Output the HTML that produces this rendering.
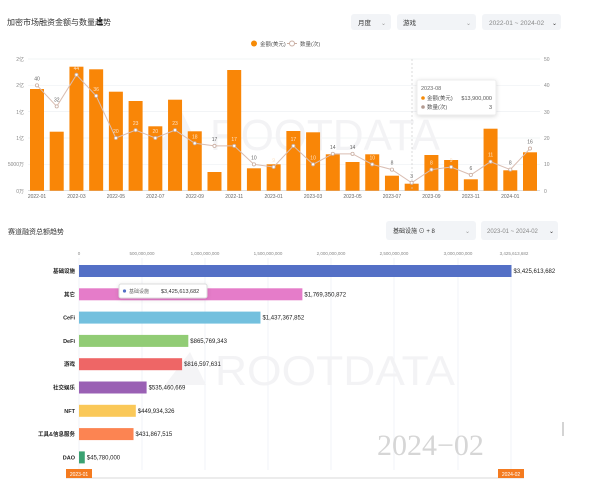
<!DOCTYPE html>
<html><head><meta charset="utf-8"><style>
html,body{margin:0;padding:0;background:#fff;width:600px;height:484px;overflow:hidden}
svg{display:block;font-family:"Liberation Sans","Noto Sans CJK SC",sans-serif}
</style></head><body>
<svg width="600" height="484" viewBox="0 0 600 484" xmlns="http://www.w3.org/2000/svg">
<text x="7" y="25" font-size="8" fill="#333">加密市场融资金额与数量趋势</text>
<path d="M100 17v5m-2.5 -2.5l2.5 2.5 2.5-2.5M97 24.5h6" stroke="#222" stroke-width="1.3" fill="none"/>
<rect x="351" y="14" width="40" height="16" rx="3" fill="#f2f4f7"/>
<text x="358" y="25" font-size="6.5" fill="#333">月度</text><text x="381" y="25" font-size="6" fill="#999">⌄</text>
<rect x="397" y="14" width="79" height="16" rx="3" fill="#f2f4f7"/>
<text x="403" y="25" font-size="6.5" fill="#333">游戏</text><text x="466" y="25" font-size="6" fill="#999">⌄</text>
<rect x="482" y="14" width="79" height="16" rx="3" fill="#f2f4f7"/>
<text x="489" y="25" font-size="6.5" fill="#888">2022-01  ~  2024-02</text><text x="552" y="25" font-size="6" fill="#333">⌄</text>
<circle cx="254" cy="43.5" r="3" fill="#f68b07"/><text x="260" y="46" font-size="5.5" fill="#555">金额(美元)</text>
<line x1="287" y1="43.5" x2="297" y2="43.5" stroke="#c9aea2"/><circle cx="292" cy="43.5" r="2.5" fill="#fff" stroke="#c9aea2"/><text x="300" y="46" font-size="5.5" fill="#555">数量(次)</text>
<g stroke="#eef0f3" stroke-width="0.7">
<line x1="28" y1="59" x2="540" y2="59"/><line x1="28" y1="85.3" x2="540" y2="85.3"/><line x1="28" y1="111.6" x2="540" y2="111.6"/><line x1="28" y1="138" x2="540" y2="138"/><line x1="28" y1="164.3" x2="540" y2="164.3"/>
</g>
<line x1="28" y1="190.7" x2="540" y2="190.7" stroke="#ccc" stroke-width="0.7"/>
<g font-size="5" fill="#888" text-anchor="end">
<text x="24" y="61">2亿</text><text x="24" y="87">2亿</text><text x="24" y="114">1亿</text><text x="24" y="140">1亿</text><text x="24" y="166">5000万</text><text x="24" y="193">0万</text>
</g>
<g font-size="5" fill="#888">
<text x="544" y="61">50</text><text x="544" y="87">40</text><text x="544" y="114">30</text><text x="544" y="140">20</text><text x="544" y="166">10</text><text x="544" y="193">0</text>
</g>
<path d="M155 150 L182 112 L200 150Z" fill="#f4f4f6"/>
<text x="210" y="150" font-size="44" fill="#f3f3f5" textLength="230" lengthAdjust="spacingAndGlyphs">ROOTDATA</text>
<g fill="#f98607" id="bars"></g>
<line x1="412" y1="59" x2="412" y2="190" stroke="#ccc" stroke-dasharray="2,2" stroke-width="0.7"/>
<polyline id="ln" fill="none" stroke="#d9bdb2" stroke-width="1"/>
<g id="pts"></g>
<g id="xl" font-size="5" fill="#666" text-anchor="middle"></g>
<rect x="417" y="80" width="79" height="35" rx="2" fill="#fff" stroke="#eee" filter="drop-shadow(0 1px 2px rgba(0,0,0,.15))"/>
<text x="421" y="90" font-size="5.5" fill="#666">2023-08</text>
<circle cx="423" cy="98" r="1.8" fill="#f68b07"/><text x="427" y="100" font-size="5.5" fill="#555">金额(美元)</text><text x="492" y="100" font-size="5.5" fill="#555" text-anchor="end">$13,900,000</text>
<circle cx="423" cy="107" r="1.8" fill="#b39a90"/><text x="427" y="109" font-size="5.5" fill="#555">数量(次)</text><text x="492" y="109" font-size="5.5" fill="#555" text-anchor="end">3</text>

<text x="8" y="234" font-size="7" fill="#333">赛道融资总额趋势</text>
<rect x="386" y="221" width="90" height="19" rx="3" fill="#f2f4f7"/>
<text x="393" y="233" font-size="6" fill="#333">基础设施 ⊙   + 8</text><text x="465" y="233" font-size="6" fill="#999">⌄</text>
<rect x="481" y="221" width="77" height="19" rx="3" fill="#f2f4f7"/>
<text x="487" y="233" font-size="6" fill="#888">2023-01  ~  2024-02</text><text x="549" y="233" font-size="6" fill="#333">⌄</text>
<g stroke="#eef0f6" stroke-width="0.8">
<line x1="79" y1="258" x2="79" y2="470"/><line x1="142" y1="258" x2="142" y2="470"/><line x1="205" y1="258" x2="205" y2="470"/><line x1="268" y1="258" x2="268" y2="470"/><line x1="331" y1="258" x2="331" y2="470"/><line x1="394" y1="258" x2="394" y2="470"/><line x1="458" y1="258" x2="458" y2="470"/><line x1="511" y1="258" x2="511" y2="470"/>
</g>
<g font-size="4.5" fill="#888" text-anchor="middle">
<text x="79" y="255">0</text><text x="142" y="255">500,000,000</text><text x="205" y="255">1,000,000,000</text><text x="268" y="255">1,500,000,000</text><text x="331" y="255">2,000,000,000</text><text x="394" y="255">2,500,000,000</text><text x="458" y="255">3,000,000,000</text><text x="514" y="255">3,425,613,682</text>
</g>
<path d="M165 385 L190 352 L206 385Z" fill="#f4f4f6"/>
<text x="215" y="385" font-size="42" fill="#f3f3f5" textLength="240" lengthAdjust="spacingAndGlyphs">ROOTDATA</text>
<g id="hb"></g>
<text x="377" y="455" font-size="30" fill="#d6d6d6" font-family="Liberation Serif,serif">2024−02</text>
<line x1="563" y1="422" x2="563" y2="436" stroke="#aaa" stroke-width="1"/>
<line x1="66" y1="478" x2="524" y2="478" stroke="#e5e5e5" stroke-width="1.5"/>
<rect x="66" y="469" width="26" height="9" fill="#f47b20"/><text x="79" y="476" font-size="5" fill="#fff" text-anchor="middle">2023-01</text>
<rect x="498" y="469" width="26" height="9" fill="#f47b20"/><text x="511" y="476" font-size="5" fill="#fff" text-anchor="middle">2024-02</text>
<rect x="119" y="284" width="88" height="14" rx="2" fill="#fff" stroke="#ddd" filter="drop-shadow(0 1px 2px rgba(0,0,0,.12))"/>
<circle cx="124.5" cy="291" r="1.6" fill="#5470c6"/><text x="129" y="293" font-size="5" fill="#666">基础设施</text><text x="161" y="293" font-size="5.5" fill="#333">$3,425,613,682</text>
</svg>
<script>
var ns="http://www.w3.org/2000/svg";
function el(p,t,a,tx){var e=document.createElementNS(ns,t);for(var k in a)e.setAttribute(k,a[k]);if(tx!==undefined)e.textContent=tx;document.getElementById(p).appendChild(e);return e;}
var tops=[89,131.7,66.7,69.3,91.7,101,126.3,99.7,131.3,172,70,168.3,164.3,131,132.3,154.3,162,154.3,175.7,183.7,155,160,179.3,128.7,170.3,152.3];
var cnt=[40,32,44,36,20,23,20,23,18,17,17,10,9,17,10,14,14,10,8,3,8,9,6,11,8,16];
var base=190.7, pts=[];
for(var i=0;i<26;i++){var cx=37+i*19.72;
 el("bars","rect",{x:cx-7,y:tops[i],width:14,height:base-tops[i]});
 var py=base-cnt[i]*(131.7/50);pts.push(cx+","+py);
 var inside=py>tops[i]+2;
 el("pts","circle",{cx:cx,cy:py,r:1.6,fill:"#fff",stroke:"#c9aea2","stroke-width":0.8});
 el("pts","text",{x:cx,y:py-5,"font-size":5,fill:inside?"#fde3c8":"#666","text-anchor":"middle"},cnt[i]);
 if(i%2==0){var y=2022+Math.floor(i/12),m=i%12+1;el("xl","text",{x:cx,y:198},y+"-"+(m<10?"0":"")+m);}
}
document.getElementById("ln").setAttribute("points",pts.join(" "));
var hb=[["基础设施",3425613682,"#5470c6"],["其它",1769350872,"#e57cc9"],["CeFi",1437367852,"#73c0de"],["DeFi",865769343,"#91cc75"],["游戏",816597631,"#ee6666"],["社交娱乐",535460669,"#9a60b4"],["NFT",449934326,"#fac858"],["工具&信息服务",431867515,"#fc8452"],["DAO",45780000,"#3ba272"]];
for(var j=0;j<hb.length;j++){var cy=271+j*23.3,w=Math.max(hb[j][1]/3425613682*432.5,5);
 el("hb","rect",{x:79,y:cy-6,width:w,height:12,fill:hb[j][2]});
 el("hb","text",{x:75,y:cy+2,"font-size":5.5,fill:"#222","text-anchor":"end","font-weight":"bold"},hb[j][0]);
 el("hb","text",{x:79+w+2,y:cy+2,"font-size":6,fill:"#222"},"$"+hb[j][1].toLocaleString("en-US"));
}
</script>
</body></html>
